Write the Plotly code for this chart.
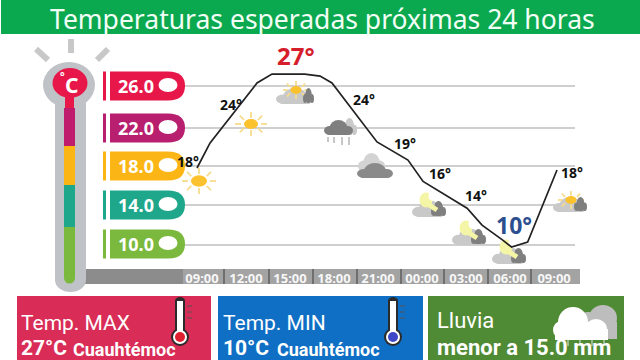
import plotly.graph_objects as go

# ---- data
hours = [-0.34, 0.55, 3.75, 4.77, 7.0, 8.05, 8.86, 11.93, 14.04, 15.07, 18.07, 19.09, 20.5, 21.1, 22.2, 23.9, 24.2]
temps = [17.75, 20.27, 26.3, 27.2, 27.2, 27.0, 26.3, 20.37, 18.55, 16.4, 13.7, 12.0, 10.5, 9.8, 10.3, 16.5, 17.55]
tick_hours = [0, 3, 6, 9, 12, 15, 18, 21, 24]
tick_labels = ["09:00", "12:00", "15:00", "18:00", "21:00", "00:00", "03:00", "06:00", "09:00"]
grid_levels = [26, 21.8, 18, 14, 10]
pill_labels = ["26.0", "22.0", "18.0", "14.0", "10.0"]
pill_colors = ["#e8174a", "#b8206f", "#fbb616", "#1fa78c", "#7ab93e"]

L, R, T, B = 180, 575, 40, 269
FONT = "Noto Sans"
PANEL_FONT = "Roboto"

def X(p): return (p - L) / (R - L)
def Y(p): return (B - p) / (B - T)
xr = [(L - 202) / 14.67, (R - 202) / 14.67]
yr = [26 - (B - 86) / 9.94, 26 - (T - 86) / 9.94]
def DX(p): return (p - 202) / 14.67
def DY(p): return 26 - (p - 86) / 9.94

shapes = []
def conv(mode):
    return (X, Y, "paper", "paper") if mode == "p" else (DX, DY, "x", "y")

def rect(x0, y0, x1, y1, c, layer="above", mode="p"):
    fx, fy, xr_, yr_ = conv(mode)
    shapes.append(dict(type="rect", xref=xr_, yref=yr_, x0=fx(x0), x1=fx(x1), y0=fy(y0), y1=fy(y1),
                       fillcolor=c, line_width=0, layer=layer))
def ell(cx, cy, rx, ry, c, layer="above", mode="p"):
    fx, fy, xr_, yr_ = conv(mode)
    shapes.append(dict(type="circle", xref=xr_, yref=yr_, x0=fx(cx - rx), x1=fx(cx + rx), y0=fy(cy - ry), y1=fy(cy + ry),
                       fillcolor=c, line_width=0, layer=layer))
def seg(x0, y0, x1, y1, c, w, layer="above", mode="p"):
    fx, fy, xr_, yr_ = conv(mode)
    shapes.append(dict(type="line", xref=xr_, yref=yr_, x0=fx(x0), x1=fx(x1), y0=fy(y0), y1=fy(y1),
                       line=dict(color=c, width=w), layer=layer))

ICON = dict(layer="between", mode="d")
def icon_e(cx, cy, rx, ry, c): ell(cx, cy, rx, ry, c, **ICON)
def icon_s(x0, y0, x1, y1, c, w=1.5): seg(x0, y0, x1, y1, c, w, **ICON)
def icon_r(x0, y0, x1, y1, c): rect(x0, y0, x1, y1, c, **ICON)

SUN = "#fcc22d"; RAY = "#f6dc8c"; LG = "#c9c9c9"; DG = "#8f8f8f"; MOON = "#f5f5a8"

def sun(cx, cy, r=7, rays=15):
    dirs = [(1, 0), (-1, 0), (0, 1), (0, -1), (.7, .7), (-.7, .7), (.7, -.7), (-.7, -.7)]
    for dx, dy in dirs:
        icon_s(cx + dx * (r + 3), cy + dy * (r - 1), cx + dx * rays, cy + dy * (rays - 4), RAY, 1.8)
    icon_e(cx, cy, r, r * .72, SUN)

def cloud(x0, x1, base, h, c):
    w = x1 - x0
    icon_r(x0 + h * .3, base - h * .5, x1 - h * .3, base, c)
    icon_e(x0 + w * .2, base - h * .3, w * .2, h * .3, c)
    icon_e(x0 + w * .5, base - h * .5, w * .3, h * .5, c)
    icon_e(x1 - w * .18, base - h * .3, w * .18, h * .3, c)

def moon_cloud(x0, base):
    cloud(x0, x0 + 34, base, 17, LG)
    cloud(x0 + 19, x0 + 34, base - 1, 15, "#7f7f7f")
    icon_e(x0 + 14, base - 17, 6.5, 7.5, MOON)
    icon_e(x0 + 21, base - 21, 4.5, 5, "#ffffff")
    icon_s(x0 + 14, base - 14, x0 + 25, base - 7, MOON, 5)

# weather icons
sun(199, 181, 8, 17)
sun(251, 124, 7, 16)
cloud(276, 314, 104, 16, LG); sun(296, 90, 5.5, 13); cloud(303, 314, 103, 15, "#7f7f7f")
cloud(342, 357, 135, 17, LG); cloud(324, 353, 135, 15, "#7f7f7f")
for dx, l in [(328, 5), (334, 6), (342, 8), (349, 8)]:
    icon_s(dx, 137, dx, 137 + l, "#a9a9a9", 1.3)
cloud(358, 385, 172, 19, "#d3d3d3"); cloud(357, 393, 178, 15, "#8a8a8a")
moon_cloud(412, 217)
moon_cloud(452, 245)
moon_cloud(492, 264)
ICON = dict(layer="above", mode="p")   # last icon overhangs the plot area
cloud(553, 587, 212, 15, LG); sun(571, 200, 5.5, 13); cloud(574, 587, 211, 14, "#7f7f7f")

# header
rect(1, 0, 640, 34, "#0aa84f")

# thermometer
GR = "#bfc2c6"
seg(36, 49, 48, 60, "#c8c8c8", 6)
seg(71, 39, 71, 53, "#c8c8c8", 6)
seg(108, 49, 97, 60, "#c8c8c8", 6)
ell(69, 85, 26, 23, GR)
rect(55, 90, 86, 280, GR)
ell(70.5, 280, 15.5, 12, GR)
rect(65, 90, 74, 108, "#e8174a")
rect(64, 108, 75, 146, "#bf1c6e")
rect(64, 146, 75, 185, "#fbb616")
rect(64, 185, 75, 227, "#1fa78c")
rect(64, 227, 75, 278, "#7ab93e")
ell(69.5, 278, 5.5, 5.5, "#7ab93e")
ell(70, 83, 17.5, 15, "#e8174a")

# pills
pill_y = [86, 128, 166, 205, 244]
for y, lab, c in zip(pill_y, pill_labels, pill_colors):
    rect(103, y - 14.5, 106, y + 14.5, c)
    x0, x1, k, t, b = X(110), X(185), X(168), Y(y - 14.5), Y(y + 14.5)
    ym = Y(y)
    shapes.append(dict(type="path", xref="paper", yref="paper", fillcolor=c, line_width=0, layer="above",
                       path=f"M{x0},{t} L{k},{t} Q{x1},{t} {x1},{ym} Q{x1},{b} {k},{b} L{x0},{b} Z"))
    ell(168, y - 1, 9.5, 7, "#ffffff")

# grey band
rect(85, 269, 580, 284, "#8c8c8c", layer="below")
rect(183, 269, 580, 284, "#a3a3a3", layer="below")
for p in [224, 269, 313, 357, 401, 444, 488, 531]:
    rect(p - 1, 269, p + 1, 284, "#6f6f6f", layer="below")

# panels
rect(17, 296, 211, 362, "#d92c56")
rect(218, 296, 423, 362, "#0f6fc4")
rect(428, 296, 624, 362, "#4f8a34")

def therm(cx, bulb):
    ell(cx, 337, 9, 9, "#2b2b2b")
    rect(cx - 5, 300, cx + 5, 335, "#2b2b2b")
    ell(cx, 301, 5, 4, "#2b2b2b")
    rect(cx - 3, 301, cx + 3, 335, "#ffffff")
    ell(cx, 337, 7, 7, "#ffffff")
    ell(cx, 337, 5, 5, bulb)
    for yy in [306, 312, 318]:
        seg(cx + 7, yy, cx + 12, yy, "#555555", 1)
therm(180, "#e02030")
therm(393, "#3f47c9")

# rain cloud
cg = "#bdbdbd"
ell(603, 318, 14, 13, cg); ell(588, 323, 12, 11, cg); rect(585, 322, 617, 339, cg)
ell(573, 322, 15, 15, "#ffffff"); ell(561, 330, 8, 9, "#ffffff"); ell(596, 329, 11, 10, "#ffffff")
rect(555, 329, 608, 340, "#ffffff")
for xx in [568, 580, 592, 604]:
    seg(xx, 340, xx, 346, "#e6e6e6", 1)

annots = []
def txt(px, py, s, size, color, bold=False, anchor="center", font=FONT):
    annots.append(dict(xref="paper", yref="paper", x=X(px), y=Y(py), text=f"<b>{s}</b>" if bold else s,
                       showarrow=False, xanchor=anchor, yanchor="middle",
                       font=dict(family=font, size=size, color=color)))

txt(322, 19, "Temperaturas esperadas próximas 24 horas", 26.5, "#f2fff6")
for y, lab in zip(pill_y, pill_labels):
    txt(136, y, lab, 18, "#ffffff", True)
txt(71.5, 85, "C", 21, "#ffffff", True)
txt(63, 75, "°", 11, "#ffffff", True)
for px, py, s in [(188, 161, "18°"), (231, 104, "24°"), (364, 99, "24°"), (405, 143, "19°"),
                  (440, 173, "16°"), (476, 195, "14°"), (572, 172, "18°")]:
    txt(px, py, s, 14, "#111111", True)
txt(296, 55, "27°", 24, "#d5202b", True)
txt(514, 225, "10°", 23, "#2c4f8f", True)
txt(19, 322.5, "Temp. MAX", 21, "#ffffff", anchor="left", font=PANEL_FONT)
txt(19, 347.5, "27°C", 21, "#ffffff", True, anchor="left", font=PANEL_FONT)
txt(71, 349, "Cuauhtémoc", 18, "#ffffff", True, anchor="left", font=PANEL_FONT)
txt(221, 322.5, "Temp. MIN", 21, "#ffffff", anchor="left", font=PANEL_FONT)
txt(221, 347.5, "10°C", 21, "#ffffff", True, anchor="left", font=PANEL_FONT)
txt(275, 349, "Cuauhtémoc", 18, "#ffffff", True, anchor="left", font=PANEL_FONT)
txt(435, 320, "Lluvia", 22, "#ffffff", anchor="left", font=PANEL_FONT)
txt(435, 347, "menor a 15.0 mm", 22, "#ffffff", True, anchor="left", font=PANEL_FONT)

fig = go.Figure(go.Scatter(x=hours, y=temps, mode="lines", line=dict(color="#222222", width=1.7),
                           hoverinfo="skip", showlegend=False))
fig.update_layout(
    width=640, height=360, margin=dict(l=L, r=640 - R, t=T, b=360 - B),
    paper_bgcolor="#ffffff", plot_bgcolor="rgba(0,0,0,0)", showlegend=False,
    shapes=shapes, annotations=annots,
    xaxis=dict(range=xr, tickvals=tick_hours, ticktext=tick_labels, showgrid=False, zeroline=False, showline=False,
               ticks="", tickangle=0, fixedrange=True, automargin=False,
               tickfont=dict(family=FONT, size=13, color="#f7f7f7", weight="bold")),
    yaxis=dict(range=yr, tickvals=grid_levels, showticklabels=False, showgrid=True, gridcolor="#cfcfcf", gridwidth=1.5,
               zeroline=False, showline=False, ticks="", fixedrange=True, automargin=False),
)
fig.write_html("out.html", config=dict(displayModeBar=False),
               post_script="document.body.style.margin='0';document.documentElement.style.overflow='hidden';")
